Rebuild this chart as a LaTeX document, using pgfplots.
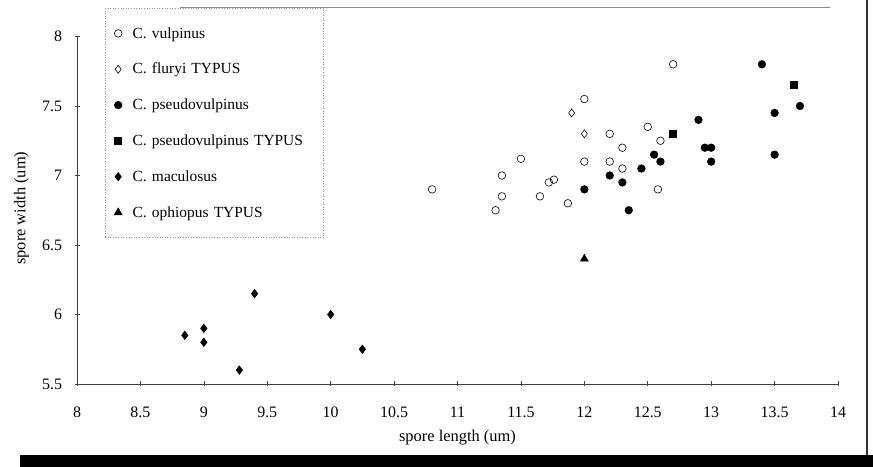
\documentclass[border=0pt]{standalone}
\usepackage{fontspec}
\setmainfont{Liberation Serif}
\usepackage{pgfplots}
\pgfplotsset{compat=1.18}
\begin{document}
\begin{tikzpicture}[x=1bp,y=1bp]
\useasboundingbox (0,0) rectangle (873,467);
\begin{axis}[
    at={(77bp,83bp)}, anchor=south west,
    scale only axis, width=761bp, height=347.5bp,
    xmin=8, xmax=14, ymin=5.5, ymax=8,
    axis lines*=left,
    axis line style={black!75, line width=0.6pt},
    xtick={8,8.5,9,9.5,10,10.5,11,11.5,12,12.5,13,13.5,14},
    ytick={5.5,6,6.5,7,7.5,8},
    tick align=center, major tick length=5bp,
    tick style={black!75, line width=0.6pt},
    /pgf/number format/assume math mode=true,
    tick label style={font=\fontsize{16}{18}\selectfont},
    xticklabel style={anchor=base, yshift=-31bp},
    yticklabel style={anchor=east, xshift=-9bp},
    xlabel={spore length (um)}, ylabel={spore width (um)},
    label style={font=\fontsize{16.5}{18}\selectfont},
    xlabel style={at={(rel axis cs:0.5,0)}, anchor=center, yshift=-54bp},
    ylabel style={at={(rel axis cs:-0.073,0.506)}, anchor=center},
    legend style={at={(rel axis cs:0.0368,1.082)}, anchor=north west,
        draw=black!45, dotted, line width=0.6pt, font=\fontsize{15.5}{18}\selectfont,
        row sep=19.6bp, inner xsep=9bp, inner ysep=17bp, cells={anchor=west},
        text width=180bp},
    legend image post style={solid},
    legend image code/.code={
        \draw[mark repeat=2,mark phase=2] plot coordinates {(0cm,0cm) (0.12cm,0cm) (0.24cm,0cm)};
        \path (0.55cm,0cm);},
    every axis plot/.append style={only marks, black, line width=0.6pt, mark size=3.8bp},
]
\addplot[mark=o] coordinates {
(12.7,7.8)(12,7.55)(12.2,7.3)(12.5,7.35)(12.3,7.2)(12.6,7.25)(11.5,7.12)(12,7.1)
(12.2,7.1)(12.3,7.05)(11.35,7.0)(11.72,6.95)(11.76,6.97)(10.8,6.9)(11.35,6.85)
(11.65,6.85)(12.58,6.9)(11.3,6.75)(11.87,6.8)};
\addlegendentry{C. vulpinus}
\addplot[mark=diamond, mark size=4bp] coordinates {(11.9,7.45)(12,7.3)};
\addlegendentry{C. fluryi TYPUS}
\addplot[mark=*] coordinates {
(13.4,7.8)(13.7,7.5)(13.5,7.45)(12.9,7.4)(12.95,7.2)(13.0,7.2)(13.0,7.1)(13.5,7.15)
(12.55,7.15)(12.6,7.1)(12.45,7.05)(12.2,7.0)(12.3,6.95)(12,6.9)(12.35,6.75)};
\addlegendentry{C. pseudovulpinus}
\addplot[mark=square*, mark size=3.5bp] coordinates {(13.65,7.65)(12.7,7.3)};
\addlegendentry{C. pseudovulpinus TYPUS}
\addplot[mark=diamond*, mark size=4.2bp] coordinates {
(8.85,5.85)(9,5.9)(9,5.8)(9.4,6.15)(9.28,5.6)(10,6.0)(10.25,5.75)};
\addlegendentry{C. maculosus}
\addplot[mark=triangle*, mark size=4.5bp] coordinates {(12,6.4)};
\addlegendentry{C. ophiopus TYPUS}
\end{axis}
\draw[black!45, line width=0.7pt] (180,460) -- (830,460);
\draw[black!80, line width=1.2pt] (867,0) -- (867,467);
\fill[black] (20,0) rectangle (873,12);
\end{tikzpicture}
\end{document}
